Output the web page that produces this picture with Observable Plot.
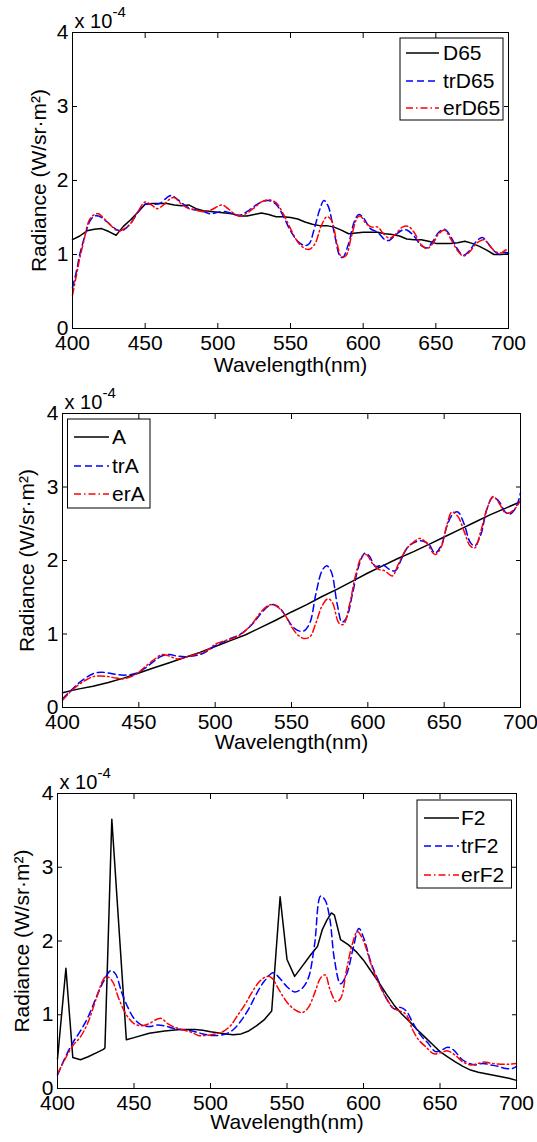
<!DOCTYPE html>
<html>
<head>
<meta charset="utf-8">
<script src="https://cdn.jsdelivr.net/npm/d3@7"></script>
<script src="https://cdn.jsdelivr.net/npm/@observablehq/plot@0.6"></script>
<style>
  html, body { margin: 0; padding: 0; background: #fff; }
  #chart { width: 537px; height: 1142px; }
  #chart svg { display: block; }
</style>
</head>
<body>
<div id="chart"></div>
<script>
// ---- tick labels / text ----
const xTicks = [400, 450, 500, 550, 600, 650, 700];
const yTicks = [0, 1, 2, 3, 4];
const xLabel = "Wavelength(nm)";
const yLabel = "Radiance (W/sr·m²)";
const scaleText = "x 10";
const scaleExp = "-4";

// ---- series values (radiance in units of 1e-4 W/sr·m²) ----
const D65 = [[400,1.20],[405,1.25],[410,1.32],[415,1.34],[420,1.35],[425,1.31],[430,1.26],[435,1.38],[440,1.47],[445,1.57],[450,1.68],[455,1.69],[460,1.69],[465,1.69],[470,1.67],[475,1.66],[480,1.67],[485,1.62],[490,1.59],[495,1.58],[500,1.57],[505,1.56],[510,1.55],[515,1.52],[520,1.52],[525,1.54],[530,1.56],[535,1.54],[540,1.51],[545,1.51],[550,1.50],[555,1.48],[560,1.44],[565,1.41],[570,1.39],[575,1.39],[580,1.37],[585,1.33],[590,1.28],[595,1.29],[600,1.30],[605,1.30],[610,1.30],[615,1.28],[620,1.27],[625,1.25],[630,1.21],[635,1.20],[640,1.20],[645,1.18],[650,1.15],[655,1.15],[660,1.15],[665,1.16],[670,1.18],[675,1.15],[680,1.11],[685,1.06],[690,1.00],[695,1.00],[700,1.01]];
const trD65 = [[400,0.55],[403,0.80],[405,1.00],[408,1.22],[410,1.35],[412,1.45],[415,1.52],[418,1.52],[420,1.50],[425,1.42],[430,1.34],[433,1.32],[435,1.33],[440,1.42],[445,1.57],[450,1.68],[455,1.68],[460,1.69],[465,1.77],[468,1.80],[470,1.78],[475,1.70],[480,1.63],[485,1.60],[490,1.58],[495,1.55],[500,1.57],[505,1.58],[510,1.55],[515,1.53],[520,1.58],[525,1.65],[530,1.71],[535,1.73],[540,1.68],[545,1.52],[550,1.32],[555,1.18],[560,1.12],[563,1.15],[566,1.32],[570,1.60],[573,1.73],[576,1.65],[580,1.30],[584,0.98],[586,0.96],[590,1.15],[594,1.45],[597,1.54],[600,1.50],[605,1.35],[610,1.30],[615,1.20],[618,1.19],[622,1.26],[627,1.33],[630,1.33],[635,1.25],[640,1.12],[644,1.09],[648,1.18],[652,1.30],[656,1.34],[660,1.25],[665,1.07],[669,0.99],[673,1.05],[678,1.18],[682,1.23],[686,1.15],[690,1.05],[694,1.00],[697,1.03],[700,1.02]];
const erD65 = [[400,0.45],[403,0.75],[405,0.95],[408,1.20],[410,1.38],[412,1.48],[415,1.54],[418,1.55],[420,1.52],[425,1.42],[430,1.33],[433,1.32],[435,1.34],[440,1.42],[445,1.58],[450,1.71],[455,1.66],[458,1.62],[462,1.66],[467,1.75],[470,1.77],[475,1.68],[480,1.62],[485,1.60],[490,1.58],[495,1.60],[500,1.65],[503,1.67],[507,1.62],[510,1.57],[515,1.52],[520,1.56],[525,1.63],[530,1.71],[535,1.74],[540,1.70],[545,1.55],[550,1.35],[555,1.17],[560,1.08],[563,1.07],[567,1.15],[571,1.38],[575,1.51],[578,1.47],[582,1.15],[585,0.97],[588,0.98],[592,1.25],[596,1.50],[598,1.52],[602,1.42],[606,1.37],[610,1.37],[614,1.28],[618,1.22],[622,1.27],[627,1.37],[631,1.38],[635,1.30],[640,1.13],[644,1.08],[648,1.15],[652,1.28],[656,1.33],[660,1.22],[665,1.05],[669,0.98],[673,1.03],[678,1.15],[683,1.20],[687,1.12],[691,1.04],[695,1.02],[698,1.06],[700,1.06]];

const A = [[400,0.20],[410,0.25],[420,0.29],[430,0.34],[440,0.40],[450,0.47],[460,0.54],[470,0.61],[480,0.68],[490,0.75],[500,0.83],[510,0.91],[520,0.99],[530,1.09],[540,1.19],[550,1.30],[560,1.40],[570,1.51],[580,1.61],[590,1.72],[600,1.83],[610,1.93],[620,2.03],[630,2.12],[640,2.22],[650,2.32],[660,2.42],[670,2.52],[680,2.62],[690,2.71],[700,2.80]];
const trA = [[400,0.12],[405,0.22],[410,0.32],[415,0.40],[420,0.46],[425,0.48],[430,0.47],[435,0.45],[440,0.44],[445,0.45],[450,0.48],[455,0.55],[460,0.63],[465,0.70],[470,0.72],[475,0.70],[480,0.69],[485,0.70],[490,0.72],[495,0.77],[500,0.84],[505,0.89],[510,0.94],[515,0.98],[520,1.05],[525,1.15],[530,1.28],[535,1.38],[538,1.40],[542,1.36],[546,1.25],[550,1.12],[554,1.05],[558,1.04],[562,1.15],[566,1.55],[570,1.86],[573,1.93],[576,1.85],[580,1.40],[583,1.16],[586,1.22],[590,1.55],[594,1.92],[598,2.10],[601,2.06],[605,1.92],[610,1.94],[614,1.88],[618,1.86],[622,2.02],[626,2.18],[630,2.24],[635,2.27],[640,2.22],[644,2.10],[648,2.20],[652,2.48],[656,2.64],[659,2.66],[663,2.50],[667,2.25],[670,2.20],[674,2.35],[678,2.70],[682,2.86],[686,2.80],[690,2.66],[693,2.63],[697,2.72],[700,2.92]];
const erA = [[400,0.10],[405,0.21],[410,0.30],[415,0.37],[420,0.42],[425,0.43],[430,0.42],[435,0.40],[440,0.39],[445,0.42],[450,0.48],[455,0.57],[460,0.65],[465,0.72],[470,0.70],[475,0.66],[480,0.68],[485,0.71],[490,0.74],[495,0.78],[500,0.86],[505,0.90],[510,0.93],[515,0.97],[520,1.05],[525,1.16],[530,1.30],[535,1.39],[538,1.40],[542,1.35],[546,1.25],[550,1.10],[554,0.99],[558,0.94],[562,0.96],[566,1.15],[570,1.38],[574,1.48],[577,1.42],[581,1.15],[584,1.13],[588,1.40],[592,1.80],[596,2.05],[599,2.08],[603,1.96],[607,1.88],[611,1.86],[616,1.79],[620,1.95],[625,2.15],[630,2.25],[634,2.30],[638,2.25],[644,2.08],[648,2.18],[652,2.50],[655,2.66],[659,2.60],[663,2.40],[667,2.20],[670,2.17],[674,2.40],[678,2.70],[682,2.87],[686,2.78],[690,2.65],[693,2.65],[697,2.72],[700,2.82]];

const F2 = [[400,0.40],[405.5,1.63],[410,0.42],[415,0.39],[420,0.43],[425,0.48],[430,0.53],[431,0.55],[435.5,3.65],[445,0.66],[450,0.69],[460,0.75],[470,0.78],[480,0.80],[490,0.80],[495,0.79],[500,0.77],[510,0.74],[515,0.73],[520,0.74],[525,0.78],[530,0.85],[535,0.93],[540,1.05],[545.5,2.60],[550,1.75],[555,1.52],[560,1.66],[565,1.80],[570,1.93],[573,2.15],[576,2.28],[579,2.38],[581,2.35],[585,2.02],[590,1.95],[595,1.86],[600,1.74],[605,1.59],[610,1.44],[615,1.28],[620,1.13],[625,1.01],[630,0.91],[635,0.80],[640,0.70],[645,0.60],[650,0.50],[655,0.43],[660,0.36],[665,0.30],[670,0.25],[675,0.22],[680,0.20],[685,0.18],[690,0.16],[695,0.14],[700,0.11]];
const trF2 = [[400,0.18],[405,0.42],[410,0.62],[415,0.78],[420,0.97],[425,1.22],[430,1.45],[435,1.60],[438,1.55],[442,1.30],[446,1.10],[450,0.95],[455,0.86],[460,0.84],[465,0.86],[470,0.85],[475,0.82],[480,0.80],[485,0.79],[490,0.77],[495,0.74],[500,0.72],[505,0.72],[510,0.74],[515,0.80],[520,0.92],[525,1.08],[530,1.28],[535,1.45],[541,1.57],[545,1.50],[550,1.38],[555,1.31],[560,1.36],[564,1.50],[568,1.95],[572,2.61],[575,2.55],[578,2.30],[581,1.75],[585,1.42],[589,1.55],[593,1.88],[597,2.17],[600,2.05],[605,1.70],[610,1.45],[615,1.22],[620,1.08],[624,1.10],[628,1.05],[632,0.90],[637,0.73],[642,0.62],[647,0.50],[651,0.52],[655,0.56],[659,0.52],[664,0.40],[668,0.35],[673,0.32],[678,0.34],[683,0.32],[688,0.30],[693,0.27],[697,0.27],[700,0.30]];
const erF2 = [[400,0.20],[405,0.40],[410,0.58],[415,0.70],[420,0.90],[425,1.20],[430,1.48],[432,1.52],[436,1.45],[440,1.22],[445,1.00],[450,0.88],[455,0.85],[460,0.88],[465,0.94],[468,0.95],[472,0.88],[478,0.82],[483,0.79],[488,0.76],[492,0.72],[497,0.72],[503,0.74],[508,0.77],[513,0.85],[518,1.00],[522,1.12],[527,1.30],[532,1.45],[537,1.52],[540,1.50],[545,1.33],[550,1.17],[555,1.07],[560,1.03],[564,1.10],[568,1.29],[572,1.50],[575,1.54],[578,1.35],[582,1.18],[585,1.22],[589,1.62],[593,1.98],[596,2.13],[600,2.00],[605,1.68],[610,1.42],[615,1.22],[620,1.08],[624,1.05],[628,1.00],[632,0.80],[636,0.66],[641,0.56],[646,0.47],[651,0.49],[655,0.51],[660,0.45],[665,0.36],[670,0.32],[675,0.34],[679,0.36],[684,0.34],[690,0.33],[695,0.33],[700,0.34]];

// ---- series names ----
const names1 = ["D65", "trD65", "erD65"];
const names2 = ["A", "trA", "erA"];
const names3 = ["F2", "trF2", "erF2"];

// ---- styles / layout ----
const colors = ["#000000", "#0000ff", "#ff0000"];
const dashes = [null, "7,4", "7,3,1.5,3"];
const FONT = "'Liberation Sans', Arial, Helvetica, sans-serif";

const panels = [
  { names: names1, data: [D65, trD65, erD65], height: 380,
    m: { l: 72, r: 29, t: 32, b: 52 }, yDx: -33, xDy: 37,
    leg: { x: 400, y: 38, w: 103, h: 82, l0: 406, l1: 439, tx: 443, rows: [53, 81, 108] } },
  { names: names2, data: [A, trA, erA], height: 380,
    m: { l: 62, r: 17, t: 33, b: 53 }, yDx: -35, xDy: 35,
    leg: { x: 67.5, y: 39, w: 82.5, h: 89, l0: 74, l1: 109, tx: 112, rows: [57, 86, 114] } },
  { names: names3, data: [F2, trF2, erF2], height: 382,
    m: { l: 57, r: 21, t: 33, b: 54 }, yDx: -35, xDy: 34,
    leg: { x: 417, y: 40, w: 94.5, h: 88, l0: 424, l1: 459, tx: 461, rows: [58, 86, 115] } }
];

const container = document.getElementById("chart");

for (const p of panels) {
  const lines = p.data.map((s, i) =>
    Plot.line(s.map(([w, v]) => ({ w, v })), {
      x: "w", y: "v",
      stroke: colors[i],
      strokeWidth: 1.5,
      strokeDasharray: dashes[i] ?? undefined,
      curve: i === 0 ? "linear" : "catmull-rom"
    })
  );
  const empty = () => "";
  const svg = Plot.plot({
    width: 537,
    height: p.height,
    marginLeft: p.m.l, marginRight: p.m.r, marginTop: p.m.t, marginBottom: p.m.b,
    style: { fontFamily: FONT, fontSize: "21px", color: "black", background: "white", overflow: "visible" },
    x: { domain: [400, 700] },
    y: { domain: [0, 4] },
    marks: [
      ...lines,
      Plot.frame({ stroke: "black", strokeWidth: 1 }),
      Plot.axisX(xTicks, { anchor: "bottom", tickSize: 0, tickPadding: 7, fontSize: 21, label: null, tickFormat: d => String(d) }),
      Plot.axisY(yTicks, { anchor: "left", tickSize: 0, tickPadding: 4, fontSize: 21, label: null, tickFormat: d => String(d) }),
      Plot.axisX(xTicks, { anchor: "bottom", tickSize: 5, dy: -5, tickFormat: empty, label: null }),
      Plot.axisX(xTicks, { anchor: "top", tickSize: 5, dy: 5, tickFormat: empty, label: null }),
      Plot.axisY(yTicks, { anchor: "left", tickSize: 5, dx: 5, tickFormat: empty, label: null }),
      Plot.axisY(yTicks, { anchor: "right", tickSize: 5, dx: -5, tickFormat: empty, label: null }),
      Plot.text([yLabel], { text: d => d, frameAnchor: "left", textAnchor: "middle", lineAnchor: "middle", rotate: -90, dx: p.yDx, fontSize: 21 }),
      Plot.text([xLabel], { text: d => d, frameAnchor: "bottom", textAnchor: "middle", lineAnchor: "middle", dy: p.xDy, fontSize: 21 }),
      Plot.text([scaleText], { text: d => d, frameAnchor: "top-left", textAnchor: "start", lineAnchor: "bottom", dx: 2, dy: -5, fontSize: 20 }),
      Plot.text([scaleExp], { text: d => d, frameAnchor: "top-left", textAnchor: "start", lineAnchor: "bottom", dx: 40, dy: -16, fontSize: 15 })
    ]
  });

  // legend box (MATLAB style)
  const L = p.leg;
  const g = d3.select(svg).append("g")
    .attr("font-family", FONT).attr("font-size", 21).attr("text-anchor", "start");
  g.append("rect").attr("x", L.x).attr("y", L.y).attr("width", L.w).attr("height", L.h)
    .attr("fill", "white").attr("stroke", "black").attr("stroke-width", 1);
  p.names.forEach((n, i) => {
    const ln = g.append("line").attr("x1", L.l0).attr("x2", L.l1)
      .attr("y1", L.rows[i]).attr("y2", L.rows[i])
      .attr("stroke", colors[i]).attr("stroke-width", 1.5);
    if (dashes[i]) ln.attr("stroke-dasharray", dashes[i]);
    g.append("text").attr("x", L.tx).attr("y", L.rows[i]).attr("dy", "0.35em")
      .attr("text-anchor", "start").attr("fill", "black").text(n);
  });

  container.appendChild(svg);
}
</script>
</body>
</html>
